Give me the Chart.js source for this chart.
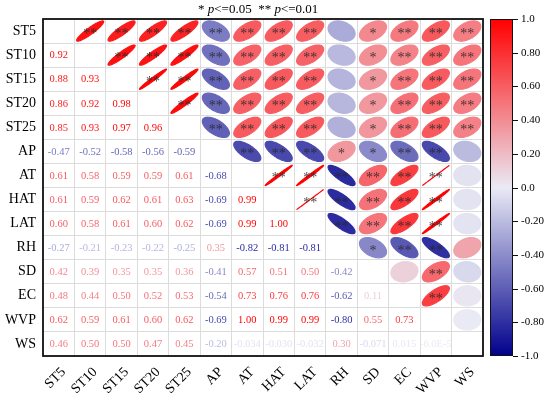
<!DOCTYPE html>
<html><head><meta charset="utf-8">
<script src="https://cdn.jsdelivr.net/npm/chart.js@4"></script>
<style>html,body{margin:0;padding:0;background:#fff}#wrap{width:550px;height:397px;position:relative}</style>
</head><body><div id="wrap"><canvas id="c"></canvas></div>
<script>
const variables = ['ST5','ST10','ST15','ST20','ST25','AP','AT','HAT','LAT','RH','SD','EC','WVP','WS'];
// correlation coefficients, lower triangle (row vs. each earlier variable)
const rST5  = [];
const rST10 = [0.92];
const rST15 = [0.88, 0.93];
const rST20 = [0.86, 0.92, 0.98];
const rST25 = [0.85, 0.93, 0.97, 0.96];
const rAP   = [-0.47, -0.52, -0.58, -0.56, -0.59];
const rAT   = [0.61, 0.58, 0.59, 0.59, 0.61, -0.68];
const rHAT  = [0.61, 0.59, 0.62, 0.61, 0.63, -0.69, 0.99];
const rLAT  = [0.60, 0.58, 0.61, 0.60, 0.62, -0.69, 0.99, 1.00];
const rRH   = [-0.27, -0.21, -0.23, -0.22, -0.25, 0.35, -0.82, -0.81, -0.81];
const rSD   = [0.42, 0.39, 0.35, 0.35, 0.36, -0.41, 0.57, 0.51, 0.50, -0.42];
const rEC   = [0.48, 0.44, 0.50, 0.52, 0.53, -0.54, 0.73, 0.76, 0.76, -0.62, 0.11];
const rWVP  = [0.62, 0.59, 0.61, 0.60, 0.62, -0.69, 1.00, 0.99, 0.99, -0.80, 0.55, 0.73];
const rWS   = [0.46, 0.50, 0.50, 0.47, 0.45, -0.20, -0.034, -0.030, -0.032, 0.30, -0.071, 0.015, -6.0e-5];
// significance marks, upper triangle (row vs. each later variable)
const sST5  = ['**','**','**','**','**','**','**','**','','*','**','**','**'];
const sST10 = ['**','**','**','**','**','**','**','','*','**','**','**'];
const sST15 = ['**','**','**','**','**','**','','*','**','**','**'];
const sST20 = ['**','**','**','**','**','','*','**','**','**'];
const sST25 = ['**','**','**','**','','*','**','**','**'];
const sAP   = ['**','**','**','*','*','**','**',''];
const sAT   = ['**','**','**','**','**','**',''];
const sHAT  = ['**','**','**','**','**',''];
const sLAT  = ['**','**','**','**',''];
const sRH   = ['*','**','**',''];
const sSD   = ['','**',''];
const sEC   = ['**',''];
const sWVP  = [''];
const sWS   = [];
const colorbarMin = -1, colorbarMax = 1, colorbarStep = 0.2;

const lowerRows = [rST5,rST10,rST15,rST20,rST25,rAP,rAT,rHAT,rLAT,rRH,rSD,rEC,rWVP,rWS];
const sigRows = [sST5,sST10,sST15,sST20,sST25,sAP,sAT,sHAT,sLAT,sRH,sSD,sEC,sWVP,sWS];

const cells = [];
for (let i = 0; i < variables.length; i++) {
  for (let j = 0; j < variables.length; j++) {
    if (i > j) cells.push({x: variables[j], y: variables[i], v: lowerRows[i][j], kind: 'num'});
    else if (i < j) cells.push({x: variables[j], y: variables[i], v: lowerRows[j][i], sig: sigRows[i][j-i-1], kind: 'ell'});
  }
}

const stops = [[-1,[0,0,140]],[0,[234,234,245]],[1,[255,0,0]]];
function cmap(v){
  v = Math.max(-1, Math.min(1, v));
  for (let k = 0; k < stops.length-1; k++) {
    const [a,ca] = stops[k], [b,cb] = stops[k+1];
    if (v >= a && v <= b) {
      const t = (v-a)/(b-a);
      return 'rgb(' + ca.map((c,n)=>Math.round(c+(cb[n]-c)*t)).join(',') + ')';
    }
  }
}
function fmt(v){
  const a = Math.abs(v);
  if (a >= 0.1 || a === 0) return v.toFixed(2);
  if (a >= 0.01) return v.toPrecision(2);
  return v.toExponential(1).toUpperCase();
}
function cbFmt(v){
  return (Math.abs(v) < 1e-9 || Math.abs(Math.abs(v) - 1) < 1e-9) ? (Math.abs(v) < 1e-9 ? 0 : v).toFixed(1) : v.toFixed(2);
}
const SERIF = '"Liberation Serif","Times New Roman",serif';

const corrPlugin = {
  id: 'corr',
  afterDatasetsDraw(chart){
    const ctx = chart.ctx, xs = chart.scales.x, ys = chart.scales.y, cbs = chart.scales.cb;
    const cw = Math.abs(xs.getPixelForValue(1) - xs.getPixelForValue(0));
    const ch = Math.abs(ys.getPixelForValue(1) - ys.getPixelForValue(0));
    const meta = chart.getDatasetMeta(0);
    const data = chart.data.datasets[0].data;
    meta.data.forEach((el, k) => {
      const d = data[k], cx = el.x, cy = el.y;
      ctx.save();
      if (d.kind === 'ell') {
        const dd = Math.acos(Math.max(-1, Math.min(1, d.v)));
        const hw = 0.43*cw, hh = 0.42*ch;
        ctx.beginPath();
        for (let s = 0; s <= 96; s++) {
          const t = s/96*2*Math.PI;
          const u = Math.cos(t + dd/2), w = Math.cos(t - dd/2);
          const px = cx + u*hw, py = cy - w*hh;
          s === 0 ? ctx.moveTo(px, py) : ctx.lineTo(px, py);
        }
        ctx.closePath();
        ctx.fillStyle = cmap(d.v);
        ctx.strokeStyle = cmap(d.v);
        ctx.lineWidth = 1.2;
        ctx.fill(); ctx.stroke();
        if (d.sig) {
          ctx.fillStyle = 'rgba(40,40,40,0.85)';
          ctx.font = '14px ' + SERIF;
          ctx.textAlign = 'center'; ctx.textBaseline = 'alphabetic';
          ctx.fillText(d.sig, cx, cy + 7);
        }
      } else if (d.kind === 'num') {
        ctx.beginPath();
        ctx.rect(cx - cw/2, cy - ch/2, cw, ch);
        ctx.clip();
        ctx.fillStyle = cmap(d.v);
        ctx.font = '10.5px ' + SERIF;
        ctx.textAlign = 'center'; ctx.textBaseline = 'middle';
        ctx.fillText(fmt(d.v), cx, cy + 0.5);
      }
      ctx.restore();
    });
    // plot border
    const a = chart.chartArea;
    ctx.save();
    ctx.strokeStyle = '#111'; ctx.lineWidth = 1.8;
    ctx.strokeRect(a.left, a.top, a.right - a.left, a.bottom - a.top);
    // colour bar, positioned with the cb scale
    const y1 = cbs.getPixelForValue(colorbarMax), y0 = cbs.getPixelForValue(colorbarMin);
    const bx = cbs.left + 7, bw = 23;
    const g = ctx.createLinearGradient(0, y1, 0, y0);
    for (let s = 0; s <= 40; s++) {
      const v = colorbarMax - s/40*(colorbarMax - colorbarMin);
      g.addColorStop(s/40, cmap(v));
    }
    ctx.fillStyle = g;
    ctx.fillRect(bx, y1, bw, y0 - y1);
    ctx.strokeStyle = '#111'; ctx.lineWidth = 1;
    ctx.strokeRect(bx + 0.5, y1 + 0.5, bw - 1, y0 - y1 - 1);
    ctx.fillStyle = '#000';
    ctx.font = '11px ' + SERIF;
    ctx.textAlign = 'left'; ctx.textBaseline = 'middle';
    cbs.ticks.forEach(t => {
      const y = Math.round(cbs.getPixelForValue(t.value)) + 0.5;
      ctx.beginPath(); ctx.moveTo(bx + bw, y); ctx.lineTo(bx + bw + 5, y); ctx.stroke();
      ctx.fillText(cbFmt(t.value), bx + bw + 8, y);
    });
    // significance legend
    ctx.fillStyle = '#000';
    ctx.textBaseline = 'alphabetic'; ctx.textAlign = 'left';
    const parts = [['* ', false], ['p', true], ['<=0.05  ** ', false], ['p', true], ['<=0.01', false]];
    let x = 198;
    parts.forEach(([txt, it]) => {
      ctx.font = (it ? 'italic ' : '') + '13px ' + SERIF;
      ctx.fillText(txt, x, 13);
      x += ctx.measureText(txt).width;
    });
    ctx.restore();
  }
};

new Chart(document.getElementById('c'), {
  type: 'scatter',
  data: { datasets: [{ data: cells, pointRadius: 0, pointHoverRadius: 0, yAxisID: 'y', xAxisID: 'x' }] },
  options: {
    responsive: true, maintainAspectRatio: false, animation: false, events: [],
    layout: { padding: { top: 19, left: 0, right: 0, bottom: 0 } },
    plugins: { legend: { display: false }, tooltip: { enabled: false } },
    scales: {
      x: {
        type: 'category', labels: variables, offset: true, position: 'bottom',
        grid: { offset: true, color: '#dcdcdc', drawTicks: false },
        border: { display: false },
        ticks: { autoSkip: false, minRotation: 45, maxRotation: 45, padding: 8, labelOffset: 5, color: '#000', font: { family: SERIF, size: 14 } },
        afterFit(s){ s.height = 41; }
      },
      y: {
        type: 'category', labels: variables, offset: true, position: 'left',
        grid: { offset: true, color: '#dcdcdc', drawTicks: false },
        border: { display: false },
        ticks: { autoSkip: false, padding: 7, color: '#000', font: { family: SERIF, size: 14 } },
        afterFit(s){ s.width = 43; }
      },
      cb: {
        type: 'linear', position: 'right', min: colorbarMin, max: colorbarMax,
        grid: { display: false, drawTicks: false, drawOnChartArea: false },
        border: { display: false },
        ticks: { stepSize: colorbarStep, display: false },
        afterFit(s){ s.width = 67; }
      }
    }
  },
  plugins: [corrPlugin]
});
</script>
</body></html>
